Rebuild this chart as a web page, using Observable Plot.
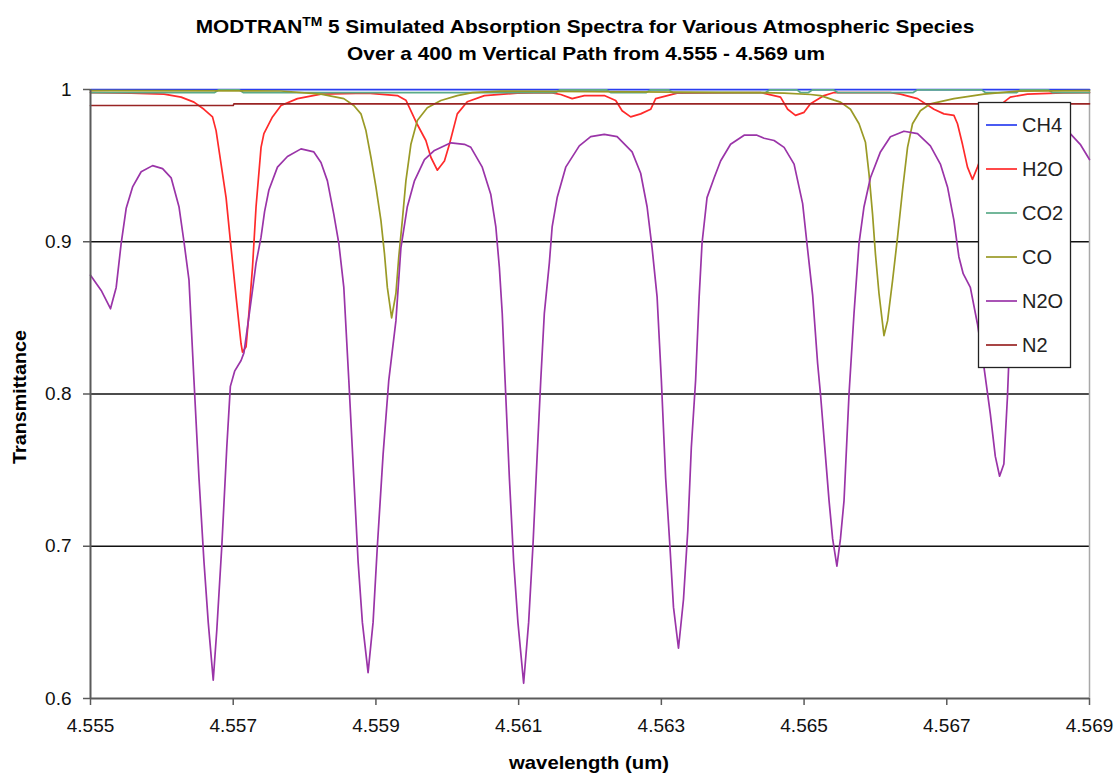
<!DOCTYPE html>
<html><head><meta charset="utf-8">
<script src="https://cdn.jsdelivr.net/npm/d3@7"></script>
<script src="https://cdn.jsdelivr.net/npm/@observablehq/plot@0.6"></script>
<style>
body{margin:0;background:#fff;}
svg{display:block;}
</style>
</head><body><div id="chart"></div>
<script>
// ---- data ----
const species = ["CH4","H2O","CO2","CO","N2O","N2"];
const colors  = ["#2a3ef0","#ff2a2a","#5aaa88","#9a9a26","#9a34a8","#992424"];

const ch4_wl = [4.555, 4.569];
const ch4_t  = [0.99995, 0.99995];

const h2o_wl = [4.55500,4.55557,4.55603,4.55627,4.55645,4.55659,4.55671,4.55676,4.55683,4.55690,4.55697,4.55704,4.55711,4.55713,4.55718,4.55722,4.55727,4.55732,4.55739,4.55743,4.55755,4.55767,4.55790,4.55823,4.55888,4.55930,4.55942,4.55951,4.55958,4.55970,4.55977,4.55986,4.55996,4.56003,4.56014,4.56028,4.56052,4.56098,4.56145,4.56159,4.56175,4.56192,4.56220,4.56236,4.56245,4.56257,4.56271,4.56285,4.56292,4.56322,4.56439,4.56467,4.56477,4.56488,4.56500,4.56509,4.56528,4.56542,4.56621,4.56635,4.56659,4.56682,4.56696,4.56710,4.56715,4.56722,4.56729,4.56736,4.56743,4.56761,4.56780,4.56789,4.56813,4.56863,4.56900];
const h2o_t  = [0.998,0.9976,0.997,0.995,0.9917,0.987,0.982,0.973,0.951,0.929,0.896,0.864,0.833,0.8275,0.831,0.853,0.883,0.923,0.962,0.971,0.982,0.9895,0.994,0.997,0.9976,0.996,0.993,0.984,0.977,0.9665,0.9555,0.947,0.953,0.964,0.984,0.992,0.996,0.9976,0.998,0.9967,0.994,0.996,0.996,0.9928,0.986,0.982,0.984,0.987,0.994,0.9976,0.998,0.995,0.987,0.983,0.985,0.9906,0.996,0.998,0.998,0.997,0.994,0.987,0.984,0.983,0.9775,0.964,0.949,0.941,0.949,0.972,0.9917,0.995,0.997,0.9978,0.998];

const co2_wl = [4.55500,4.55674,4.55680,4.55708,4.55714,4.56152,4.56158,4.56223,4.56229,4.56279,4.56285,4.56310,4.56316,4.56446,4.56452,4.56490,4.56495,4.56506,4.56512,4.56541,4.56547,4.56653,4.56659,4.56749,4.56754,4.56798,4.56803,4.56842,4.56848,4.56900];
const co2_t  = [0.998,0.998,0.9998,0.9998,0.998,0.998,0.9998,0.9998,0.998,0.998,0.9998,0.9998,0.998,0.998,0.9998,0.9998,0.998,0.998,0.9998,0.9998,0.998,0.998,0.9998,0.9998,0.998,0.998,0.9998,0.9998,0.998,0.998];

const co_wl = [4.55500,4.55767,4.55823,4.55855,4.55869,4.55879,4.55886,4.55893,4.55900,4.55907,4.55912,4.55916,4.55922,4.55928,4.55932,4.55937,4.55942,4.55949,4.55958,4.55972,4.55991,4.56014,4.56035,4.56075,4.56439,4.56472,4.56509,4.56523,4.56542,4.56551,4.56565,4.56577,4.56586,4.56591,4.56596,4.56600,4.56605,4.56612,4.56617,4.56624,4.56631,4.56638,4.56645,4.56652,4.56663,4.56677,4.56710,4.56752,4.56799,4.56900];
const co_t  = [0.9993,0.999,0.997,0.994,0.9895,0.984,0.973,0.9555,0.936,0.914,0.892,0.870,0.850,0.866,0.890,0.914,0.940,0.964,0.9796,0.988,0.9928,0.996,0.998,0.9989,0.998,0.9976,0.9967,0.996,0.993,0.9917,0.987,0.9775,0.9654,0.9446,0.918,0.892,0.866,0.8384,0.848,0.8745,0.903,0.934,0.962,0.9775,0.986,0.9906,0.994,0.997,0.9989,0.9992];

const n2o_wl = [4.55500,4.55515,4.55528,4.55536,4.55543,4.55550,4.55559,4.55571,4.55587,4.55601,4.55613,4.55624,4.55631,4.55638,4.55645,4.55652,4.55659,4.55665,4.55672,4.55677,4.55684,4.55691,4.55696,4.55702,4.55711,4.55715,4.55720,4.55727,4.55732,4.55739,4.55744,4.55750,4.55762,4.55776,4.55795,4.55813,4.55823,4.55832,4.55841,4.55848,4.55855,4.55862,4.55869,4.55875,4.55881,4.55889,4.55896,4.55902,4.55910,4.55918,4.55928,4.55935,4.55944,4.55954,4.55968,4.55982,4.56005,4.56024,4.56033,4.56049,4.56061,4.56068,4.56073,4.56077,4.56081,4.56087,4.56093,4.56099,4.56107,4.56114,4.56120,4.56126,4.56131,4.56136,4.56143,4.56147,4.56154,4.56166,4.56185,4.56201,4.56220,4.56238,4.56259,4.56271,4.56280,4.56287,4.56294,4.56300,4.56306,4.56312,4.56317,4.56324,4.56331,4.56337,4.56342,4.56348,4.56353,4.56357,4.56364,4.56374,4.56383,4.56397,4.56416,4.56434,4.56444,4.56458,4.56472,4.56486,4.56498,4.56504,4.56512,4.56519,4.56523,4.56535,4.56540,4.56546,4.56551,4.56556,4.56563,4.56570,4.56577,4.56584,4.56593,4.56607,4.56621,4.56640,4.56659,4.56677,4.56691,4.56701,4.56710,4.56717,4.56723,4.56733,4.56743,4.56752,4.56761,4.56768,4.56774,4.56780,4.56785,4.56787,4.56796,4.56810,4.56831,4.56852,4.56873,4.56887,4.56900];
const n2o_t  = [0.878,0.868,0.856,0.870,0.899,0.922,0.936,0.946,0.950,0.948,0.942,0.923,0.900,0.875,0.809,0.745,0.690,0.650,0.612,0.645,0.700,0.765,0.805,0.815,0.822,0.827,0.844,0.868,0.886,0.903,0.920,0.934,0.949,0.956,0.961,0.959,0.952,0.940,0.918,0.899,0.870,0.809,0.745,0.690,0.650,0.617,0.650,0.700,0.760,0.809,0.848,0.896,0.923,0.940,0.954,0.960,0.965,0.964,0.962,0.949,0.931,0.910,0.883,0.853,0.809,0.745,0.690,0.650,0.610,0.650,0.700,0.760,0.809,0.853,0.886,0.910,0.929,0.949,0.963,0.969,0.9705,0.969,0.959,0.945,0.923,0.896,0.864,0.809,0.745,0.700,0.660,0.633,0.665,0.710,0.765,0.809,0.864,0.899,0.929,0.942,0.953,0.964,0.970,0.970,0.968,0.9665,0.962,0.951,0.925,0.899,0.865,0.820,0.800,0.730,0.705,0.687,0.705,0.730,0.800,0.853,0.899,0.923,0.942,0.959,0.969,0.9726,0.971,0.963,0.951,0.936,0.914,0.890,0.879,0.870,0.846,0.818,0.787,0.759,0.746,0.754,0.798,0.822,0.900,0.945,0.966,0.973,0.971,0.964,0.954];

const n2_wl = [4.55500,4.55700,4.55701,4.56900];
const n2_t  = [0.9895,0.9895,0.9906,0.9906];

const xTicks = [4.555,4.557,4.559,4.561,4.563,4.565,4.567,4.569];
const yTicks = [0.6,0.7,0.8,0.9,1];
const gridY  = [0.7,0.8,0.9];

const titleLine1a = "MODTRAN";
const titleSup = "TM";
const titleLine1b = " 5 Simulated Absorption Spectra for Various Atmospheric Species";
const titleLine2 = "Over a 400 m Vertical Path from 4.555 - 4.569 um";
const xLabel = "wavelength (um)";
const yLabel = "Transmittance";

// ---- build table ----
const rows = [];
function add(name, wl, t){ wl.forEach((w,i)=>rows.push({species:name, wl:w, t:t[i]})); }
add("CH4", ch4_wl, ch4_t);
add("H2O", h2o_wl, h2o_t);
add("CO2", co2_wl, co2_t);
add("CO",  co_wl,  co_t);
add("N2O", n2o_wl, n2o_t);
add("N2",  n2_wl,  n2_t);

const FONT = "'Liberation Sans', Arial, sans-serif";
const W = 1117, H = 775;
const mL = 90, mR = 28, mT = 89, mB = 77;

const chart = Plot.plot({
  width: W, height: H,
  marginLeft: mL, marginRight: mR, marginTop: mT, marginBottom: mB,
  style: {fontFamily: FONT, background: "#fff", color: "#000", fontSize: "19px"},
  x: {domain: [4.555, 4.569]},
  y: {domain: [0.6, 1]},
  color: {domain: species, range: colors},
  marks: [
    Plot.ruleY(gridY, {stroke: "#111", strokeWidth: 1.4}),
    Plot.ruleX([4.569], {stroke: "#a8a8a8", strokeWidth: 1.5}),
    Plot.line(rows, {x: "wl", y: "t", z: "species", stroke: "species", strokeWidth: 1.7}),
    Plot.ruleX([4.555], {stroke: "#5a5a5a", strokeWidth: 2}),
    Plot.ruleY([0.6], {stroke: "#5a5a5a", strokeWidth: 2}),
    Plot.axisX({ticks: xTicks, tickFormat: d3.format(".3f"), tickSize: 7, tickPadding: 13,
      stroke: "#5a5a5a", strokeWidth: 1.5, strokeOpacity: 1, label: null, fontSize: 19, fill: "#111"}),
    Plot.axisY({ticks: yTicks, tickFormat: d => d === 1 ? "1" : d3.format(".1f")(d), tickSize: 7, tickPadding: 12,
      stroke: "#5a5a5a", strokeWidth: 1.5, strokeOpacity: 1, label: null, fontSize: 19, fill: "#111"})
  ]
});
document.getElementById("chart").appendChild(chart);

const svg = d3.select(chart);

// stretch a text horizontally about its anchor so that it spans targetW
function stretch(sel, cx, cy, targetW, rotate) {
  const w = sel.node().getComputedTextLength ? sel.node().getComputedTextLength() : sel.node().getBBox().width;
  const s = targetW / w;
  if (rotate) sel.attr("transform", `translate(${cx},${cy}) rotate(-90) scale(${s},1)`);
  else sel.attr("transform", `translate(${cx},${cy}) scale(${s},1)`);
}

// title
const t1 = svg.append("text").attr("x", 0).attr("y", 0).attr("text-anchor", "middle")
  .attr("font-family", FONT).attr("font-weight", "bold").attr("font-size", 18).attr("fill", "#000");
t1.append("tspan").text(titleLine1a);
t1.append("tspan").attr("dy", -7).attr("font-size", 12).text(titleSup);
t1.append("tspan").attr("dy", 7).text(titleLine1b);
stretch(t1, 585, 33, 779);
const t2 = svg.append("text").attr("x", 0).attr("y", 0).attr("text-anchor", "middle")
  .attr("font-family", FONT).attr("font-weight", "bold").attr("font-size", 18).attr("fill", "#000")
  .text(titleLine2);
stretch(t2, 586, 60, 478);

// axis titles
const xl = svg.append("text").attr("text-anchor", "middle")
  .attr("font-family", FONT).attr("font-weight", "bold").attr("font-size", 18).attr("fill", "#000").text(xLabel);
stretch(xl, 589, 769, 160);
const yl = svg.append("text").attr("text-anchor", "middle")
  .attr("font-family", FONT).attr("font-weight", "bold").attr("font-size", 18).attr("fill", "#000").text(yLabel);
stretch(yl, 26, 397, 134, true);

// legend
const lg = svg.append("g").attr("text-anchor", "start");
lg.append("rect").attr("x", 978.5).attr("y", 102.5).attr("width", 92).attr("height", 265)
  .attr("fill", "#fff").attr("stroke", "#222").attr("stroke-width", 1.3);
species.forEach((s, i) => {
  const yy = 125 + i * 44;
  lg.append("line").attr("x1", 986).attr("x2", 1017).attr("y1", yy).attr("y2", yy)
    .attr("stroke", colors[i]).attr("stroke-width", 1.7);
  lg.append("text").attr("x", 1022).attr("y", yy).attr("dy", "0.35em").attr("text-anchor", "start")
    .attr("font-family", FONT).attr("font-size", 20).attr("fill", "#222").text(s);
});
</script>
</body></html>
